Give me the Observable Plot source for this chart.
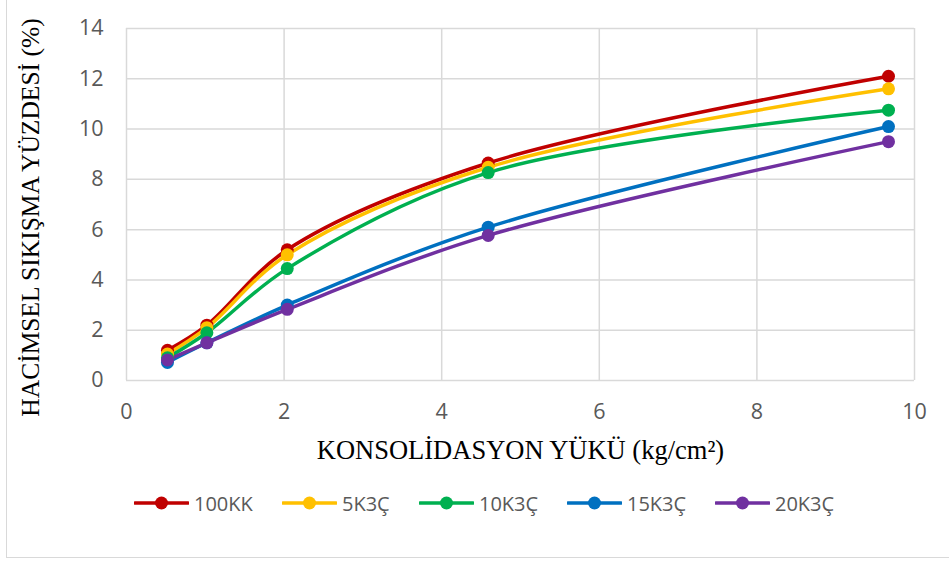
<!DOCTYPE html>
<html>
<head>
<meta charset="utf-8">
<script src="https://cdn.jsdelivr.net/npm/d3@7"></script>
<script src="https://cdn.jsdelivr.net/npm/@observablehq/plot@0.6"></script>
<style>
  html, body { margin: 0; padding: 0; background: #fff; }
  #wrap { position: relative; width: 949px; height: 561px; overflow: hidden; }
  #frame { position: absolute; left: 6px; top: -1px; width: 960px; height: 559px; border: 1.5px solid #d9d9d9; box-sizing: border-box; }
  #chart { position: absolute; left: 0; top: 0; }
  #legend { position: absolute; top: 489px; left: 0; height: 28px; font-family: "Open Sans", sans-serif; font-size: 20px; color: #595959; }
  .item { position: absolute; top: 0; display: flex; align-items: center; height: 28px; white-space: nowrap; }
  .item svg { display: block; margin-right: 5px; }
  g[aria-label="y-axis tick label"] text, g[aria-label="x-axis tick label"] text { font-family: "Open Sans", sans-serif; font-size: 21.5px; fill: #595959; }
</style>
</head>
<body>
<div id="wrap">
  <div id="frame"></div>
  <div id="chart"></div>
  <div id="legend"></div>
</div>
<script>
const loads = [0.52, 1.02, 2.04, 4.59, 9.67];
const seriesNames = ["100KK", "5K3Ç", "10K3Ç", "15K3Ç", "20K3Ç"];
const seriesColors = ["#c00000", "#ffc000", "#00b050", "#0070c0", "#7030a0"];
const v100KK = [1.2, 2.2, 5.2, 8.65, 12.1];
const v5K3C  = [1.05, 2.1, 5.0, 8.48, 11.6];
const v10K3C = [0.9, 1.9, 4.45, 8.27, 10.75];
const v15K3C = [0.72, 1.5, 3.0, 6.1, 10.1];
const v20K3C = [0.82, 1.5, 2.83, 5.77, 9.5];
const xTicks = [0, 2, 4, 6, 8, 10];
const yTicks = [0, 2, 4, 6, 8, 10, 12, 14];
const xTitle = "KONSOLİDASYON YÜKÜ (kg/cm²)";
const yTitle = "HACİMSEL SIKIŞMA YÜZDESİ (%)";

const allValues = [v100KK, v5K3C, v10K3C, v15K3C, v20K3C];
const data = [];
allValues.forEach((vals, si) => {
  vals.forEach((v, i) => data.push({series: seriesNames[si], x: loads[i], y: v}));
});

const color = {domain: seriesNames, range: seriesColors};

const chart = Plot.plot({
  width: 949,
  height: 561,
  marginLeft: 126,
  marginRight: 35,
  marginTop: 28,
  marginBottom: 181,
  style: {background: "transparent", overflow: "visible"},
  x: {domain: [0, 10], ticks: xTicks},
  y: {domain: [0, 14], ticks: yTicks},
  color,
  marks: [
    Plot.ruleX(xTicks, {stroke: "#d9d9d9", strokeWidth: 1.5, strokeOpacity: 1}),
    Plot.ruleY(yTicks, {stroke: "#d9d9d9", strokeWidth: 1.5, strokeOpacity: 1}),
    Plot.axisX({ticks: xTicks, tickSize: 0, tickPadding: 23, label: null}),
    Plot.axisY({ticks: yTicks, tickSize: 0, tickPadding: 23, label: null}),
    Plot.text([xTitle], {frameAnchor: "bottom", textAnchor: "middle", lineAnchor: "middle", dy: 70, text: d => d, fontFamily: "Liberation Serif, Times New Roman, serif", fontSize: 26.5, fill: "#000"}),
    Plot.text([yTitle], {frameAnchor: "left", textAnchor: "middle", lineAnchor: "middle", rotate: -90, dx: -96, dy: 13, text: d => d, fontFamily: "Liberation Serif, Times New Roman, serif", fontSize: 25.5, fill: "#000"}),
    Plot.line(data, {x: "x", y: "y", z: "series", stroke: "series", strokeWidth: 3.5, curve: "catmull-rom"}),
    Plot.dot(data, {x: "x", y: "y", fill: "series", r: 6.5})
  ]
});
document.getElementById("chart").appendChild(chart);

const legendX = [134, 282, 419, 567, 715];
const legend = document.getElementById("legend");
seriesNames.forEach((name, i) => {
  const item = document.createElement("div");
  item.className = "item";
  item.style.left = legendX[i] + "px";
  item.innerHTML = `<svg width="55" height="14"><line x1="1" y1="7" x2="54" y2="7" stroke="${seriesColors[i]}" stroke-width="3.5" stroke-linecap="round"/><circle cx="27.5" cy="7" r="6.5" fill="${seriesColors[i]}"/></svg><span>${name}</span>`;
  legend.appendChild(item);
});
</script>
</body>
</html>
